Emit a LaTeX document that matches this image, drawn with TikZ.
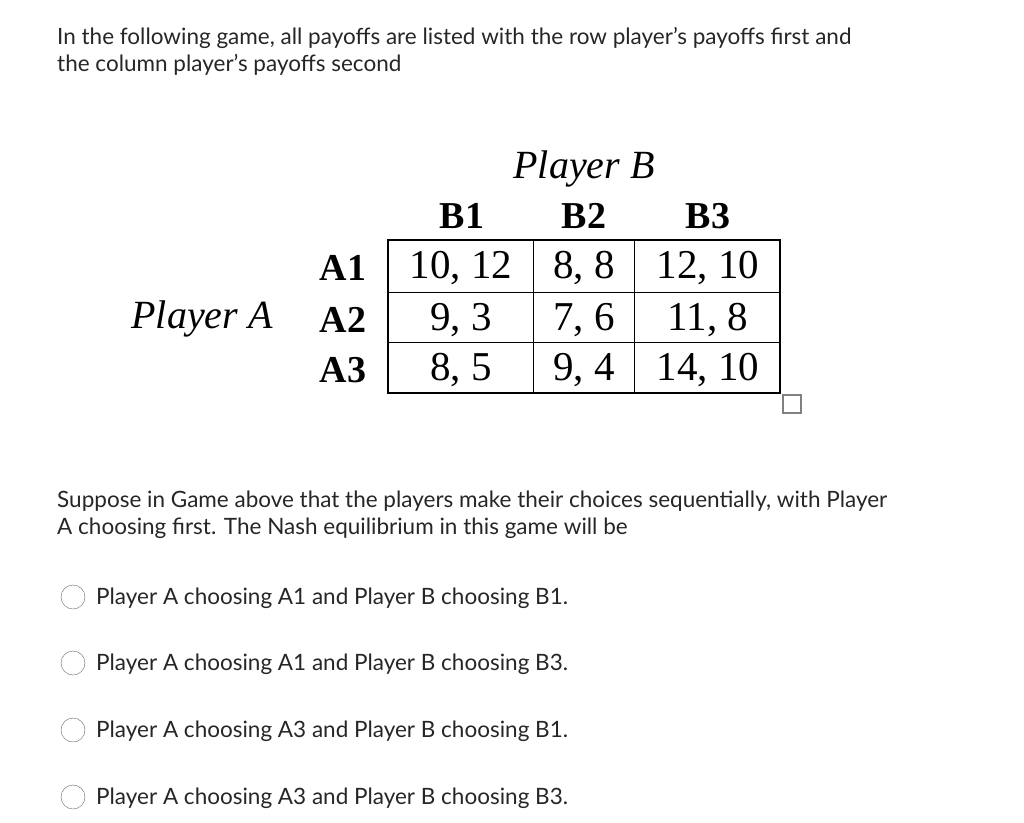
\documentclass[tikz,border=0pt]{standalone}
\usepackage{fontspec}
\setmainfont{Lato}
\newfontfamily\tms{Liberation Serif}
\begin{document}
\begin{tikzpicture}[x=1pt,y=-1pt,
  txt/.style={anchor=west,inner sep=0,font=\fontsize{22.5}{26}\selectfont,text=black!85},
  tb/.style={inner sep=0,font=\tms\fontsize{41}{44}\selectfont},
  tbb/.style={inner sep=0,font=\tms\bfseries\fontsize{38}{44}\selectfont},
  tbi/.style={inner sep=0,font=\tms\itshape\fontsize{40}{44}\selectfont},
  radio/.style={draw=black!60,circle,minimum size=24pt,inner sep=0}]
\useasboundingbox (0,0) rectangle (1024,822);
\node[txt] (l1) at (57,38) {In the following game, all payoffs are listed with the row player’s payoffs first and};
\node[txt] (l2) at (57,65) {the column player’s payoffs second};
\draw[line width=1.3] (388,240) rectangle (780,393);
\draw[line width=1] (388,292)--(780,292) (388,342)--(780,342) (533,240)--(533,393) (634,240)--(634,393);
\draw[black!50,line width=1.2] (783,395) rectangle (801,413);
\node[tbi] (pb) at (584,169) {Player B};
\node[tbb] (b1) at (462,216) {B1};
\node[tbb] (b2) at (584,216) {B2};
\node[tbb] (b3) at (708,216) {B3};
\node[tbb] (a1) at (343,268) {A1};
\node[tbb] (a2) at (343,320) {A2};
\node[tbb] (a3) at (343,370) {A3};
\node[tbi] (pa) at (202,319) {Player A};
\node[tb] at (461,268) {10, 12};
\node[tb] at (584,268) {8, 8};
\node[tb] at (708,268) {12, 10};
\node[tb] at (461,320) {9, 3};
\node[tb] at (584,320) {7, 6};
\node[tb] at (708,320) {11, 8};
\node[tb] at (461,370) {8, 5};
\node[tb] at (584,370) {9, 4};
\node[tb] at (708,370) {14, 10};
\node[txt] (s1) at (57,501) {Suppose in Game above that the players make their choices sequentially, with Player};
\node[txt] (s2) at (57,528) {A choosing first. The Nash equilibrium in this game will be};
\foreach \y/\t in {597/{Player A choosing A1 and Player B choosing B1.},663/{Player A choosing A1 and Player B choosing B3.},730/{Player A choosing A3 and Player B choosing B1.},797/{Player A choosing A3 and Player B choosing B3.}}{
  \node[radio] at (73,\y) {};
  \node[txt] at (96,\y+1) {\t};
}
\end{tikzpicture}
\end{document}
